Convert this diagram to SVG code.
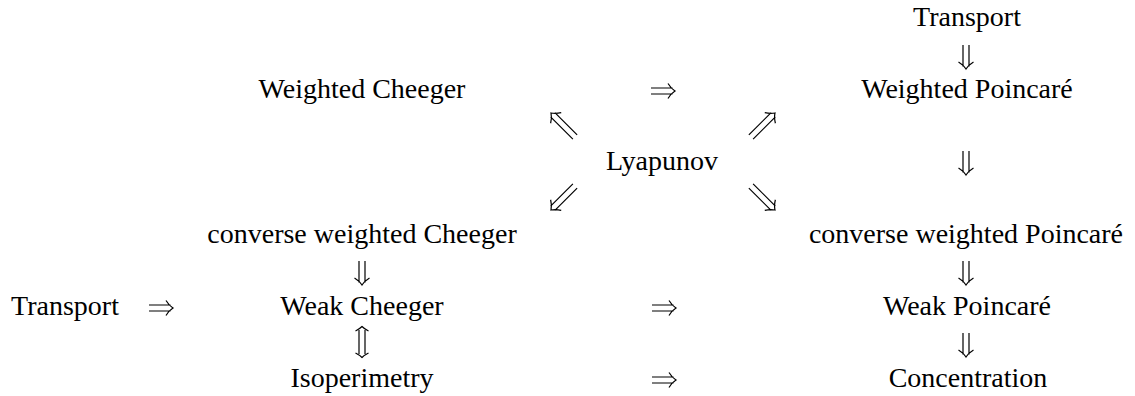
<svg xmlns="http://www.w3.org/2000/svg" width="1135" height="396" viewBox="0 0 1135 396">
  <style>
    .t { font-family: "Liberation Serif", "Times New Roman", serif; font-size: 28px; fill: #000; text-anchor: middle; }
    .a { fill: none; stroke: #000; stroke-width: 1.2; stroke-linecap: butt; stroke-linejoin: miter; }
  </style>
  <defs>
    <path id="arr" class="a" d="M-12,-3 H9.5 M-12,3 H9.5 M5,-7.5 Q8,-2.5 12,0 Q8,2.5 5,7.5"/>
    <path id="arrL" class="a" d="M-17,-3 H14.5 M-17,3 H14.5 M10,-7.5 Q13,-2.5 17,0 Q13,2.5 10,7.5"/>
    <path id="arrD" class="a" d="M-12,-3 H12 M-12,3 H12 M11,-6.5 Q13,-2.5 15.5,0 Q13,2.5 11,6.5 M-11,-6.5 Q-13,-2.5 -15.5,0 Q-13,2.5 -11,6.5"/>
  </defs>
  <rect width="1135" height="396" fill="#fff"/>

  <g id="transport-top"><text class="t" x="967" y="26">Transport</text></g>
  <g id="weighted-cheeger"><text class="t" x="362" y="98">Weighted Cheeger</text></g>
  <g id="weighted-poincare"><text class="t" x="967" y="98">Weighted Poincaré</text></g>
  <g id="lyapunov"><text class="t" x="662" y="170">Lyapunov</text></g>
  <g id="converse-cheeger"><text class="t" x="362" y="243">converse weighted Cheeger</text></g>
  <g id="converse-poincare"><text class="t" x="966" y="243">converse weighted Poincaré</text></g>
  <g id="transport-left"><text class="t" x="65" y="315">Transport</text></g>
  <g id="weak-cheeger"><text class="t" x="362" y="315">Weak Cheeger</text></g>
  <g id="weak-poincare"><text class="t" x="967" y="315">Weak Poincaré</text></g>
  <g id="isoperimetry"><text class="t" x="362" y="387">Isoperimetry</text></g>
  <g id="concentration"><text class="t" x="968" y="387">Concentration</text></g>

  <g id="connectors">
    <use href="#arr" transform="translate(966,57) rotate(90)"/>
    <use href="#arr" transform="translate(663,91)"/>
    <use href="#arrL" transform="translate(563,125) rotate(-135)"/>
    <use href="#arrL" transform="translate(763,125) rotate(-45)"/>
    <use href="#arr" transform="translate(966,163) rotate(90)"/>
    <use href="#arrL" transform="translate(563,198) rotate(135)"/>
    <use href="#arrL" transform="translate(763,198) rotate(45)"/>
    <use href="#arr" transform="translate(362,273) rotate(90)"/>
    <use href="#arr" transform="translate(966,273) rotate(90)"/>
    <use href="#arr" transform="translate(161,308)"/>
    <use href="#arr" transform="translate(664,308)"/>
    <use href="#arrD" transform="translate(362,342) rotate(90)"/>
    <use href="#arr" transform="translate(966,345) rotate(90)"/>
    <use href="#arr" transform="translate(664,380)"/>
  </g>
</svg>
